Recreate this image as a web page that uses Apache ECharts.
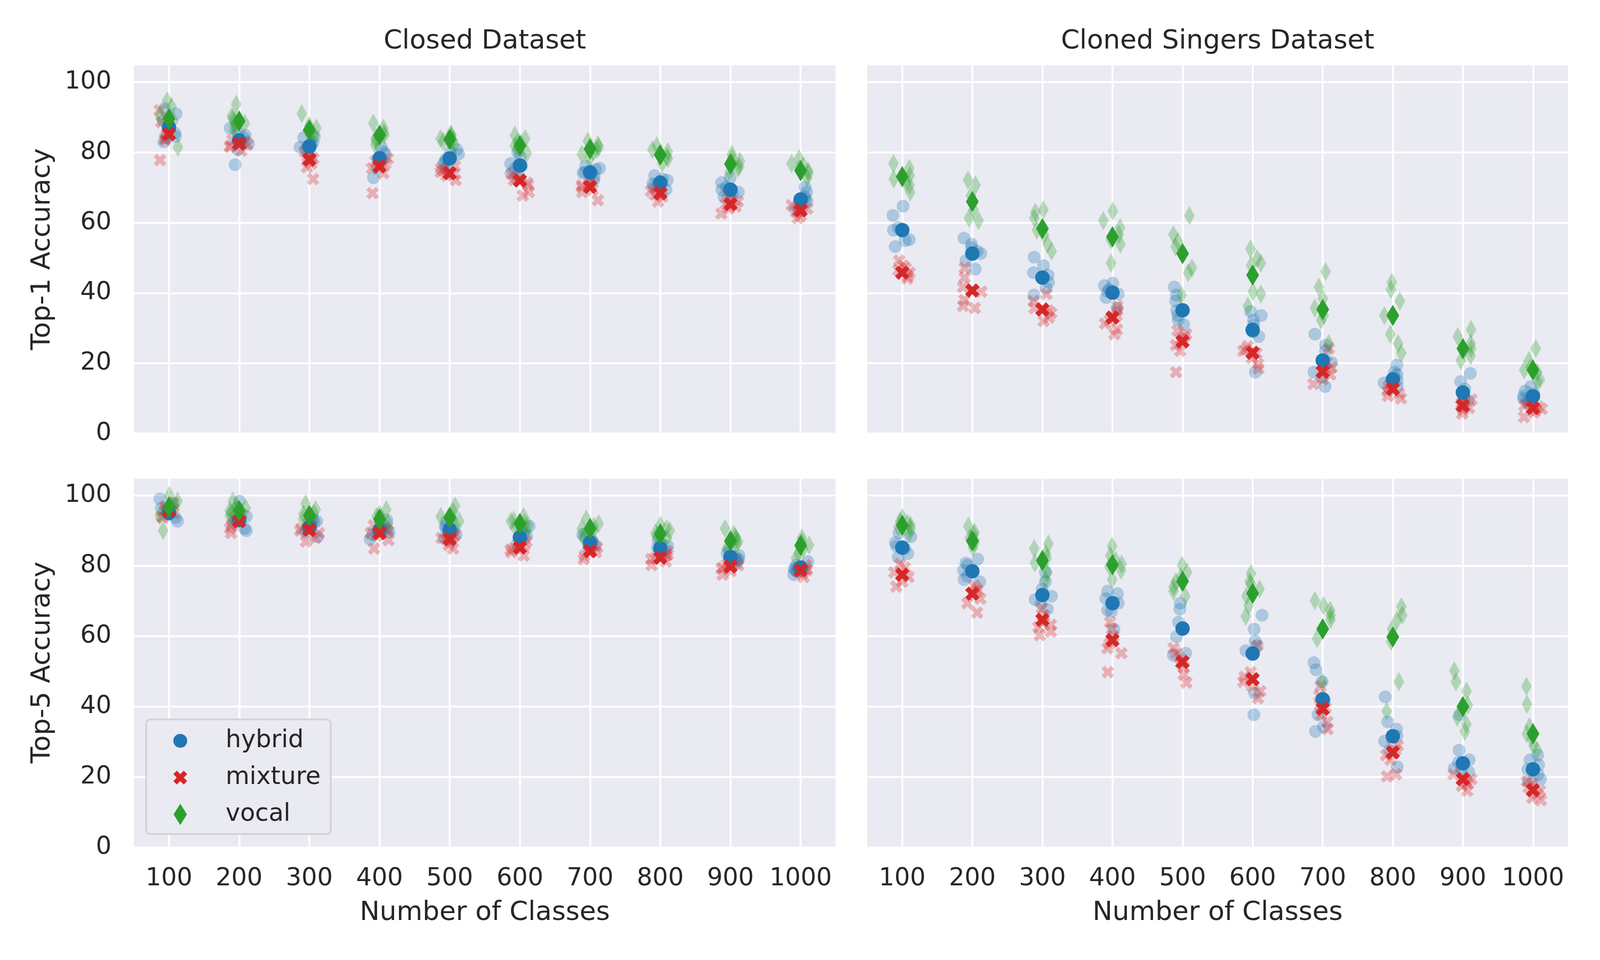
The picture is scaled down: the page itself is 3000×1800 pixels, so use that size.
<!DOCTYPE html>
<html>
<head>
<meta charset="utf-8">
<script src="https://cdn.jsdelivr.net/npm/echarts@6/dist/echarts.min.js"></script>
<style>html,body{margin:0;padding:0;background:#fff}#c{width:3000px;height:1800px}</style>
</head>
<body>
<div id="c"></div>
<script>
// ---------------- DATA ----------------
const classes = ['100', '200', '300', '400', '500', '600', '700', '800', '900', '1000'];
const groups = ['hybrid', 'mixture', 'vocal'];
const panelTitles = ['Closed Dataset', 'Cloned Singers Dataset'];
const rowLabels = ['Top-1 Accuracy', 'Top-5 Accuracy'];
const xLabel = 'Number of Classes';

// Closed Dataset, Top-1: means
const closedTop1HybridMean = [87.1, 83.4, 81.7, 78.3, 78.3, 76.3, 74.3, 71.4, 69.4, 66.6];
const closedTop1MixtureMean = [85.2, 82.5, 78.0, 76.0, 74.1, 72.0, 70.2, 68.4, 65.3, 63.5];
const closedTop1VocalMean = [89.6, 88.9, 86.4, 84.9, 83.7, 81.9, 81.0, 79.3, 76.7, 74.8];
// Closed Dataset, Top-1: individual runs
const closedTop1HybridRuns = [
  [92.5, 91, 89, 85.5, 84.2, 83, 84.5], [86.9, 85.6, 84.2, 82.5, 80.8, 76.5, 84.9],
  [84.5, 84.2, 82.9, 80.8, 79.5, 81.5, 82.2], [81.5, 80.2, 78.8, 77.5, 75.5, 72.8, 79.5],
  [80.8, 79.5, 78.2, 76.8, 75.5, 80.2, 77.5], [80, 78.8, 76.8, 75.5, 74.1, 76.1, 73.2],
  [76.1, 75.1, 74.1, 73.1, 72.1, 75.5, 74.4], [73.4, 72.4, 71.4, 70.4, 69.4, 72.1, 71.1],
  [72.8, 71.4, 70.1, 68.7, 67.4, 69.4, 68], [70.1, 68.7, 67.4, 66, 64.6, 64, 66.7]
];
const closedTop1MixtureRuns = [
  [92, 88.6, 87.6, 85, 84, 83.5, 77.8], [83.2, 82.2, 81.5, 80.5, 82.9, 81.9, 83.5],
  [80.2, 78.8, 77.5, 75.8, 72.4, 78.2, 76.8], [78.2, 76.8, 75.5, 74.1, 68.4, 76.5, 77.5],
  [76.1, 74.8, 73.4, 72.1, 74.4, 75.5, 73.8], [73.8, 72.1, 70.7, 68.7, 67.7, 72.8, 71.4],
  [72.1, 71.1, 70.1, 68.7, 66.4, 70.7, 69.4], [71.1, 69.7, 68.4, 67.4, 66, 69, 68],
  [68.4, 66.7, 65.3, 64, 62.6, 66, 64.6], [65, 64, 63, 62, 61.3, 64.3, 63.3]
];
const closedTop1VocalRuns = [
  [94.7, 93, 90.6, 88.3, 85.6, 81.5, 89], [93.7, 90.3, 88.9, 87.6, 88.3, 86.2, 89.6],
  [91, 87.6, 86.2, 84.9, 83.5, 86.9, 85.6], [88.3, 86.9, 84.9, 83.5, 82.2, 85.6, 84.2],
  [85.2, 84.2, 83.2, 82.2, 84.9, 83.5, 83.9], [84.9, 83.9, 82.5, 81.2, 79.8, 82.9, 81.9],
  [83.2, 82.2, 80.8, 79.5, 78.2, 81.5, 80.2], [81.9, 80.8, 79.5, 78.2, 76.8, 80.2, 78.8],
  [79.5, 78.5, 77.5, 76.1, 74.4, 76.8, 75.5], [78.2, 76.8, 75.5, 74.1, 72.8, 76.1, 74.8]
];

// Cloned Singers Dataset, Top-1: means
const clonedTop1HybridMean = [57.9, 51.2, 44.4, 40.1, 35.1, 29.5, 20.8, 15.4, 11.7, 10.6];
const clonedTop1MixtureMean = [45.8, 40.7, 35.3, 33.0, 26.2, 23.0, 17.6, 12.7, 8.0, 7.3];
const clonedTop1VocalMean = [73.1, 66.0, 58.3, 56.0, 51.2, 45.1, 35.3, 33.6, 24.2, 18.1];
// Cloned Singers Dataset, Top-1: individual runs
const clonedTop1HybridRuns = [
  [64.7, 62.1, 58.6, 55.2, 53.2, 57.9, 54.9], [55.6, 53.9, 51.9, 49.2, 46.8, 51.2, 52.9],
  [50.2, 47.8, 45.1, 43.1, 41.4, 39.4, 45.8], [42.8, 42.1, 40.4, 38.7, 35.7, 41, 39.7],
  [41.7, 39.4, 37.7, 35, 32.3, 31, 33.6], [34.7, 32.3, 31, 28.9, 27.6, 17.5, 33.6],
  [28.3, 25.2, 23.5, 20.2, 17.5, 13.4, 16.1], [19.5, 17.5, 16.1, 14.4, 13.4, 16.8, 15.1],
  [17.1, 14.8, 12.7, 11.1, 10, 9.4, 11.7], [13.4, 11.4, 10.7, 10, 9.4, 8.7, 12.1]
];
const clonedTop1MixtureRuns = [
  [49.2, 47.8, 46.5, 44.8, 44.1, 47.1, 45.8], [47.1, 44.4, 41.7, 40.4, 38, 35.7, 36.3],
  [39.7, 37.7, 35.7, 34.3, 33, 32, 35], [36.3, 35, 32.3, 31.3, 29.6, 28.3, 33.6],
  [29.3, 28.3, 26.9, 25.2, 23.5, 17.5, 27.6], [24.9, 23.9, 22.9, 21.5, 19.8, 18.5, 23.5],
  [24.2, 20.2, 18.1, 16.8, 15.4, 14.1, 18.8], [14.1, 12.7, 11.4, 10, 13.4, 12.1, 10.7],
  [9.7, 8.7, 7.7, 6.7, 5.7, 8, 7.3], [8.7, 7.7, 6.7, 6, 4.7, 8, 7]
];
const clonedTop1VocalRuns = [
  [76.8, 75.5, 73.4, 71.4, 68.7, 72.4, 70.7], [72.1, 70.7, 67.7, 63.7, 61.3, 60.6, 66],
  [63.7, 63, 57.9, 53.9, 51.9, 61.3, 56.6], [63.3, 60.6, 58.6, 55.2, 53.9, 48.5, 56.6],
  [62, 56.6, 54.6, 47.1, 45.8, 39.4, 53.2], [52.5, 49.8, 47.8, 40.4, 36.3, 39.7, 48.5],
  [46.1, 41.7, 38.4, 32.3, 25.6, 35.7, 33.6], [43.1, 41, 37.7, 28.3, 25.6, 22.9, 33.6],
  [29.6, 27.6, 24.2, 22.2, 20.8, 23.5, 25.6], [24.2, 20.8, 17.5, 15.4, 14.8, 18.8, 18.1]
];

// Closed Dataset, Top-5: means
const closedTop5HybridMean = [95.0, 93.0, 91.0, 90.2, 90.3, 88.1, 86.6, 84.9, 82.5, 79.5];
const closedTop5MixtureMean = [95.7, 92.7, 90.2, 89.3, 87.6, 85.2, 84.2, 82.3, 79.8, 78.8];
const closedTop5VocalMean = [96.7, 95.7, 94.3, 93.3, 93.7, 92.0, 90.6, 89.1, 87.1, 85.8];
// Closed Dataset, Top-5: individual runs
const closedTop5HybridRuns = [
  [99, 97.7, 96.4, 95, 93.7, 92.7, 95.7], [98.4, 96.4, 94, 92.3, 90.6, 90, 93],
  [93.3, 92.3, 91, 89.6, 88.3, 91.6, 92.7], [93, 91.6, 90.3, 88.9, 87.6, 91, 89.6],
  [92.7, 91.3, 90.3, 88.9, 87.9, 90.6, 89.6], [91.3, 90, 88.6, 87.3, 86.2, 88.9, 87.9],
  [88.9, 87.9, 86.9, 85.9, 84.9, 87.3, 86.2], [87.3, 86.2, 85.2, 84.2, 82.9, 85.6, 84.6],
  [84.6, 83.5, 82.5, 81.5, 80.8, 82.9, 81.9], [81.2, 80.2, 79.2, 78.5, 77.5, 79.5, 78.8]
];
const closedTop5MixtureRuns = [
  [98, 97, 96, 95, 94, 95.7, 93.7], [94.7, 93.7, 92.7, 91.6, 90.6, 89.3, 93],
  [92, 90.6, 89.3, 87.9, 86.9, 91.3, 90], [91.6, 90, 88.6, 87.3, 84.9, 90.6, 89.3],
  [88.9, 87.9, 86.9, 85.9, 84.9, 87.6, 88.3], [86.9, 85.9, 84.9, 83.9, 82.9, 85.6, 84.6],
  [85.9, 84.9, 83.9, 82.9, 81.9, 84.2, 85.2], [84.2, 83.2, 82.2, 81.2, 80.2, 82.9, 81.9],
  [81.5, 80.5, 79.5, 78.5, 77.5, 80.2, 79.2], [80.2, 79.2, 78.5, 77.8, 76.8, 78.8, 78.2]
];
const closedTop5VocalRuns = [
  [100, 98.4, 97, 95.7, 94.3, 90, 96.4], [98.4, 97, 95.7, 94.3, 96.4, 95, 93.5],
  [97.7, 96, 94.7, 93.3, 92, 95, 94], [96, 94.7, 93.3, 92, 91, 94, 92.7],
  [97, 95.3, 94, 92.7, 91.6, 94.3, 93.3], [94, 93, 92, 91, 90, 92.7, 91.6],
  [93.3, 92, 90.6, 89.3, 88.3, 91.3, 90], [91.6, 90.6, 89.3, 87.9, 86.9, 90, 88.6],
  [90.6, 88.9, 87.6, 86.2, 84.9, 88.3, 86.9], [87.9, 86.9, 85.9, 84.9, 83.5, 82.2, 86.2]
];

// Cloned Singers Dataset, Top-5: means
const clonedTop5HybridMean = [85.2, 78.5, 71.7, 69.4, 62.2, 55.1, 42.1, 31.6, 23.9, 22.2];
const clonedTop5MixtureMean = [77.5, 72.1, 64.7, 58.9, 52.7, 47.8, 39.4, 27.0, 19.4, 16.3];
const clonedTop5VocalMean = [91.5, 87.1, 81.5, 80.3, 75.6, 72.2, 62.1, 59.8, 40.0, 32.3];
// Cloned Singers Dataset, Top-5: individual runs
const clonedTop5HybridRuns = [
  [89.3, 88.3, 86.6, 84.9, 83.5, 82.5, 85.6], [81.9, 80.8, 78.8, 77.1, 76.1, 75.5, 80.2],
  [78.2, 75.5, 73.4, 71.4, 69.4, 67.7, 70.4], [72.8, 72.1, 70.7, 69.4, 67.4, 67, 62],
  [69.4, 67.7, 64, 62, 59.9, 55.2, 54.6], [66, 62, 58.6, 55.9, 57.3, 43.8, 37.7],
  [52.5, 50.5, 47.1, 41.7, 37.7, 34.3, 33], [42.8, 35.7, 33.6, 31.6, 30.2, 27.6, 22.9],
  [27.6, 24.9, 24.2, 22.5, 21.5, 37.7, 22.2], [26.2, 24.9, 23.5, 22.2, 20.8, 19.4, 18.8]
];
const clonedTop5MixtureRuns = [
  [80.5, 79.5, 78.2, 76.8, 75.5, 74.1, 77.5], [74.4, 73.4, 72.1, 70.7, 69.4, 66.7, 72.8],
  [68, 66, 64, 62.6, 61.3, 60.3, 63.3], [64, 62, 59.9, 57.9, 56.6, 55.2, 49.8],
  [56.6, 55.2, 53.9, 52.5, 51.2, 49.2, 46.8], [57.3, 49.8, 48.5, 47.1, 45.8, 44.4, 42.4],
  [45.8, 43.1, 40.4, 37.7, 35.7, 33.6, 39.7], [28.9, 27.6, 26.2, 24.9, 20.8, 20.2, 31],
  [20.8, 19.8, 18.8, 17.5, 16.1, 19.4, 18.1], [18.1, 17.1, 16.1, 15.1, 14.1, 13.4, 18.8]
];
const clonedTop5VocalRuns = [
  [93.7, 92.7, 91.6, 90.6, 89.3, 92, 91], [91.3, 89.6, 87.9, 86.6, 85.2, 88.9, 87.3],
  [86.2, 84.9, 83.5, 80.8, 78.2, 76.1, 82.2], [85.6, 82.9, 81.5, 79.8, 78.8, 76.1, 80.5],
  [80.2, 71.4, 76.8, 75.5, 74.1, 72.8, 78.2], [77.8, 75.5, 73.4, 71.4, 68.7, 65.7, 74.8],
  [70.1, 67.4, 66, 64.7, 59.3, 47.1, 68.7], [68.4, 66, 64.7, 58.6, 47.1, 38.7, 62],
  [50.2, 47.1, 44.4, 37, 35, 33, 40.4], [45.8, 40.7, 32.3, 31, 28.9, 27.6, 34.3]
];

// ---------------- BUILD ----------------
const FONT = 'DejaVu Sans';
const TEXT = '#262626';
const colors = ['#1f77b4', '#d62728', '#2ca02c'];
const xPath = 'path://M0 5L5 0L10 5L15 0L20 5L15 10L20 15L15 20L10 15L5 20L0 15L5 10Z';
const dPath = 'path://M5 0L10 8L5 16L0 8Z';
const symbols = ['circle', xPath, dPath];
const runSizes = [24, 24, [20, 36]];
const meanSizes = [27, 27, [24, 40]];

const panels = [
  { means: [closedTop1HybridMean, closedTop1MixtureMean, closedTop1VocalMean],
    runs: [closedTop1HybridRuns, closedTop1MixtureRuns, closedTop1VocalRuns] },
  { means: [clonedTop1HybridMean, clonedTop1MixtureMean, clonedTop1VocalMean],
    runs: [clonedTop1HybridRuns, clonedTop1MixtureRuns, clonedTop1VocalRuns] },
  { means: [closedTop5HybridMean, closedTop5MixtureMean, closedTop5VocalMean],
    runs: [closedTop5HybridRuns, closedTop5MixtureRuns, closedTop5VocalRuns] },
  { means: [clonedTop5HybridMean, clonedTop5MixtureMean, clonedTop5VocalMean],
    runs: [clonedTop5HybridRuns, clonedTop5MixtureRuns, clonedTop5VocalRuns] }
];

const gridBoxes = [
  { left: 251, top: 121, width: 1316, height: 692 },
  { left: 1626, top: 121, width: 1314, height: 692 },
  { left: 251, top: 896, width: 1316, height: 693 },
  { left: 1626, top: 896, width: 1314, height: 693 }
];

const grid = [], xAxis = [], yAxis = [], series = [];
gridBoxes.forEach((b, p) => {
  const isBottom = p >= 2, isLeft = p % 2 === 0;
  grid.push(Object.assign({ show: true, backgroundColor: '#EAEAF2', borderWidth: 0, containLabel: false }, b));
  xAxis.push({
    type: 'category', gridIndex: p, data: classes, boundaryGap: true,
    axisLine: { show: false }, axisTick: { show: false },
    axisLabel: { show: isBottom, interval: 0, margin: 36, fontSize: 46, color: TEXT, fontFamily: FONT },
    splitLine: { show: true, interval: 0, alignWithLabel: true, lineStyle: { color: '#ffffff', width: 3.5 } }
  });
  xAxis.push({
    type: 'category', gridIndex: p, data: classes, boundaryGap: true, show: false,
    jitter: 36, jitterOverlap: true
  });
  yAxis.push({
    type: 'value', gridIndex: p, min: 0, max: 105, interval: 20,
    axisLine: { show: false }, axisTick: { show: false },
    axisLabel: { show: isLeft, showMaxLabel: false, margin: 42, fontSize: 46, color: TEXT, fontFamily: FONT },
    splitLine: { show: true, lineStyle: { color: '#ffffff', width: 3.5 } }
  });
});

panels.forEach((panel, p) => {
  groups.forEach((g, s) => {
    const pts = [];
    panel.runs[s].forEach((vals, c) => vals.forEach(v => pts.push([classes[c], v])));
    series.push({
      type: 'scatter', name: g + ' runs', xAxisIndex: 2 * p + 1, yAxisIndex: p,
      data: pts, symbol: symbols[s], symbolSize: runSizes[s],
      itemStyle: { color: colors[s], opacity: 0.3, borderWidth: 0 },
      silent: true, z: 2
    });
  });
});
panels.forEach((panel, p) => {
  groups.forEach((g, s) => {
    series.push({
      type: 'scatter', name: g, xAxisIndex: 2 * p, yAxisIndex: p,
      data: panel.means[s].map((v, c) => [classes[c], v]),
      symbol: symbols[s], symbolSize: meanSizes[s],
      itemStyle: { color: colors[s], opacity: 1, borderWidth: 0 },
      silent: true, z: 3 + s
    });
  });
});

const graphic = [];
const colCenters = [909, 2283];
panelTitles.forEach((t, i) => graphic.push({
  type: 'text', x: colCenters[i], y: 78,
  style: { text: t, fontSize: 50, fontFamily: FONT, fill: TEXT, textAlign: 'center', textVerticalAlign: 'middle' }
}));
colCenters.forEach(cx => graphic.push({
  type: 'text', x: cx, y: 1712,
  style: { text: xLabel, fontSize: 50, fontFamily: FONT, fill: TEXT, textAlign: 'center', textVerticalAlign: 'middle' }
}));
const rowCenters = [467, 1242];
rowLabels.forEach((t, i) => graphic.push({
  type: 'text', x: 80, y: rowCenters[i], rotation: Math.PI / 2,
  style: { text: t, fontSize: 50, fontFamily: FONT, fill: TEXT, textAlign: 'center', textVerticalAlign: 'middle' }
}));

const chart = echarts.init(document.getElementById('c'), null, { renderer: 'canvas' });
chart.setOption({
  animation: false,
  backgroundColor: '#ffffff',
  textStyle: { fontFamily: FONT },
  grid, xAxis, yAxis, series, graphic,
  legend: {
    orient: 'vertical', left: 274, top: 1349,
    data: [{ name: 'hybrid', icon: 'circle' }, { name: 'mixture', icon: xPath }, { name: 'vocal', icon: dPath }],
    itemWidth: 26, itemHeight: 40, itemGap: 23, symbolKeepAspect: true,
    padding: [17, 19, 14, 51],
    backgroundColor: '#EAEAF2', borderColor: '#d0d0d0', borderWidth: 3, borderRadius: 8,
    selectedMode: false,
    textStyle: { fontSize: 46, color: TEXT, fontFamily: FONT, padding: [0, 0, 0, 67], lineHeight: 40 }
  }
});
</script>
</body>
</html>
